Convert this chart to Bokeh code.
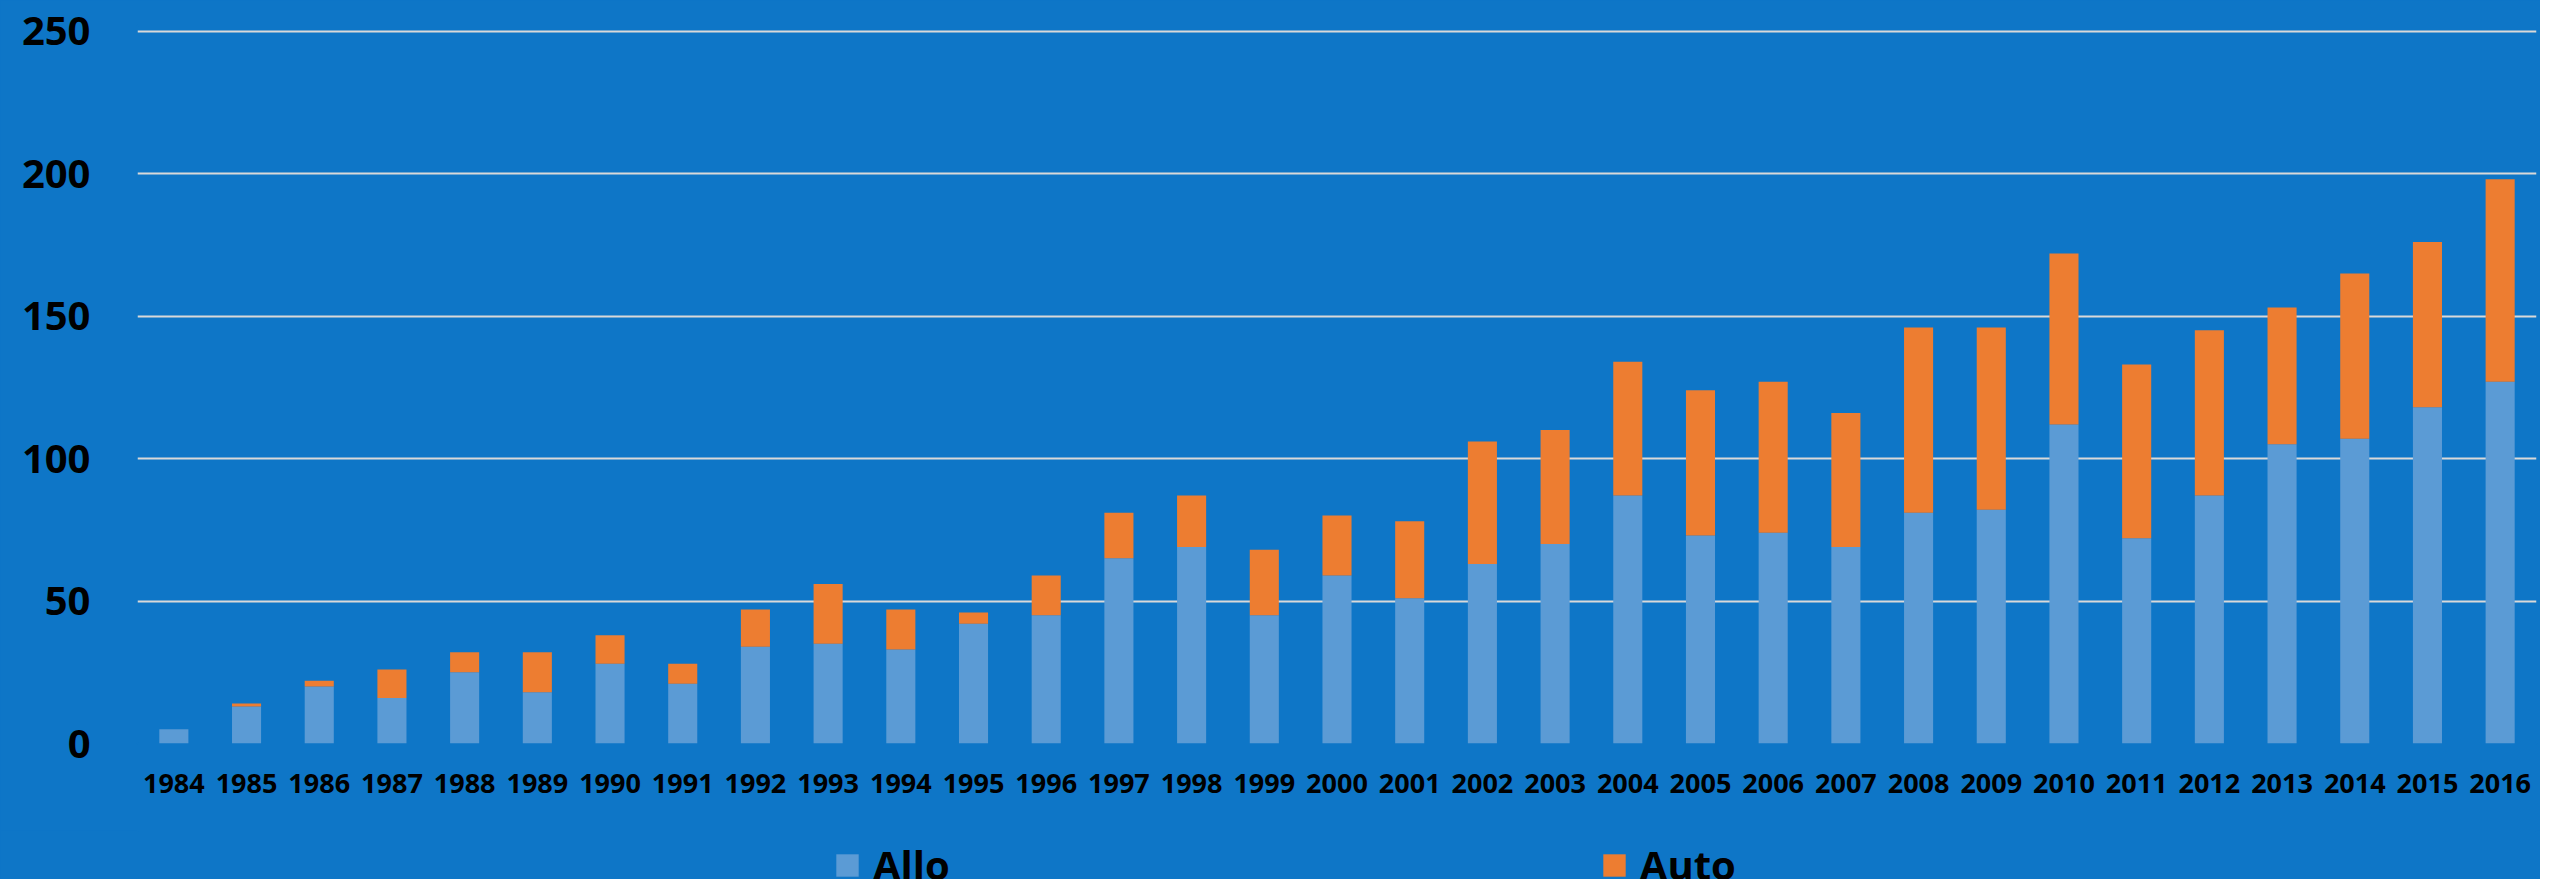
from bokeh.plotting import figure
from bokeh.layouts import column
from bokeh.models import ColumnDataSource, FactorRange, Range1d, Legend, LegendItem, FixedTicker
from bokeh.embed import file_html
from bokeh.resources import INLINE

years = ["1984", "1985", "1986", "1987", "1988", "1989", "1990", "1991", "1992", "1993",
         "1994", "1995", "1996", "1997", "1998", "1999", "2000", "2001", "2002", "2003",
         "2004", "2005", "2006", "2007", "2008", "2009", "2010", "2011", "2012", "2013",
         "2014", "2015", "2016"]
allo = [5, 13, 20, 16, 25, 18, 28, 21, 34, 35, 33, 42, 45, 65, 69, 45, 59, 51, 63, 70,
        87, 73, 74, 69, 81, 82, 112, 72, 87, 105, 107, 118, 127]
auto = [0, 1, 2, 10, 7, 14, 10, 7, 13, 21, 14, 4, 14, 16, 18, 23, 21, 27, 43, 40,
        47, 51, 53, 47, 65, 64, 60, 61, 58, 48, 58, 58, 71]
series = ["Allo", "Auto"]
y_ticks = [0, 50, 100, 150, 200, 250]

BG = "#0E76C7"
COLORS = ["#5B9BD5", "#ED7D31"]

source = ColumnDataSource(dict(year=years, Allo=allo, Auto=auto))
x_range = FactorRange(*years)
x_range.range_padding = 0

# main chart
p = figure(width=2540, height=830, x_range=x_range, y_range=Range1d(0, 252),
           output_backend="svg", toolbar_location=None,
           min_border_left=137, min_border_right=4, min_border_top=25, min_border_bottom=87)

p.background_fill_color = BG
p.border_fill_color = BG
p.outline_line_color = BG
p.outline_line_width = 2

p.vbar_stack(series, x="year", width=0.4, source=source, color=COLORS, line_color=None)

p.xgrid.grid_line_color = None
p.ygrid.grid_line_color = "#D9D9D9"
p.ygrid.grid_line_width = 2
p.yaxis.ticker = FixedTicker(ticks=y_ticks)

for ax in (p.xaxis, p.yaxis):
    ax.axis_line_color = None
    ax.major_tick_line_color = None
    ax.minor_tick_line_color = None
    ax.major_label_text_color = "#000000"
    ax.major_label_text_font = "Open Sans"
    ax.major_label_text_font_style = "bold"

p.yaxis.major_label_text_font_size = "40px"
p.yaxis.major_label_standoff = 41
p.xaxis.major_label_text_font_size = "27px"
p.xaxis.major_label_standoff = 24

# legend strip below the chart (frame aligned with the chart's frame);
# its bars use the same data but lie outside its visible y range
lg = figure(width=2540, height=49, x_range=x_range, y_range=Range1d(1000, 1001),
            output_backend="svg", toolbar_location=None,
            x_axis_location=None, y_axis_location=None,
            min_border_left=0, min_border_right=0, min_border_top=0, min_border_bottom=0)
lg.background_fill_color = BG
lg.border_fill_color = BG
lg.outline_line_color = BG
lg.outline_line_width = 2
lg.grid.visible = False

lg_renderers = lg.vbar_stack(series, x="year", width=0.4, source=source, color=COLORS,
                             line_color=None)
items = [LegendItem(label=s, renderers=[r]) for s, r in zip(series, lg_renderers)]

legend = Legend(items=items, location=(696, -13), orientation="horizontal")
legend.padding = 0
legend.margin = 0
legend.spacing = 650
legend.glyph_width = 28
legend.glyph_height = 28
legend.label_standoff = 12
legend.label_text_font = "Open Sans"
legend.label_text_font_style = "bold"
legend.label_text_font_size = "40px"
legend.label_text_color = "#000000"
legend.background_fill_alpha = 0
legend.border_line_alpha = 0
lg.add_layout(legend, "center")

layout = column(p, lg, spacing=0, styles={"background-color": BG})
open("out.html", "w").write(file_html(layout, INLINE))
